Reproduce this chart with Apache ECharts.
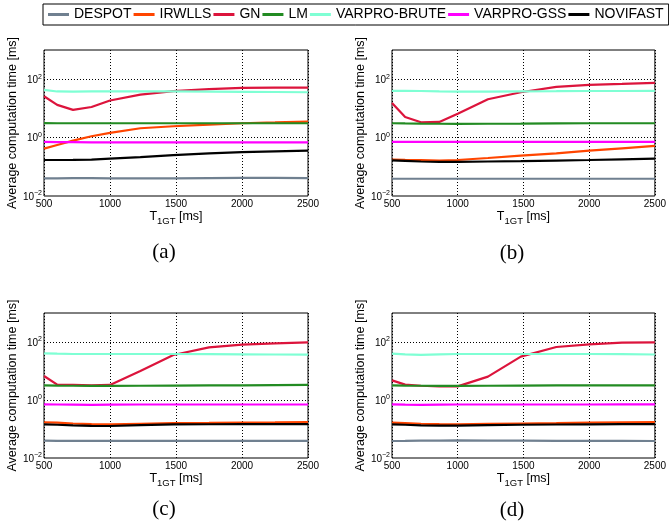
<!DOCTYPE html>
<html>
<head>
<meta charset="utf-8">
<script src="https://cdn.jsdelivr.net/npm/echarts@6/dist/echarts.min.js"></script>
<style>
html,body{margin:0;padding:0;background:#fff;}
#chart{width:669px;height:527px;}
</style>
</head>
<body>
<div id="chart"></div>
<script>
// ---- data ----
const T1 = [500, 600, 720, 860, 1000, 1230, 1480, 1750, 2000, 2250, 2500];
const methods = ['DESPOT', 'IRWLLS', 'GN', 'LM', 'VARPRO-BRUTE', 'VARPRO-GSS', 'NOVIFAST'];
const panelLabels = ['(a)', '(b)', '(c)', '(d)'];
const xTicks = [500, 1000, 1500, 2000, 2500];

// panel (a)
const DESPOT_a = [0.040, 0.040, 0.041, 0.041, 0.040, 0.040, 0.040, 0.041, 0.042, 0.042, 0.041];
const IRWLLS_a = [0.42, 0.56, 0.79, 1.11, 1.45, 2.09, 2.45, 2.79, 3.1, 3.3, 3.54];
const GN_a = [26.1, 13.2, 8.9, 11.2, 18.6, 29.8, 38.8, 45.4, 50.5, 51.8, 51.8];
const LM_a = [3.15, 3.1, 3.1, 3.1, 3.1, 3.1, 3.1, 3.1, 3.1, 3.1, 3.1];
const BRUTE_a = [43, 38, 37.8, 38.5, 38, 38, 38, 37.5, 37, 36.5, 35.8];
const GSS_a = [0.71, 0.70, 0.70, 0.69, 0.69, 0.69, 0.69, 0.69, 0.69, 0.69, 0.69];
const NOVI_a = [0.171, 0.171, 0.172, 0.175, 0.19, 0.215, 0.25, 0.29, 0.32, 0.34, 0.36];

// panel (b)
const DESPOT_b = [0.039, 0.039, 0.039, 0.039, 0.039, 0.039, 0.039, 0.039, 0.039, 0.039, 0.039];
const IRWLLS_b = [0.176, 0.172, 0.168, 0.163, 0.171, 0.2, 0.241, 0.29, 0.358, 0.43, 0.518];
const GN_b = [15.4, 5.1, 3.36, 3.44, 6.5, 20.6, 35.8, 54.6, 64, 69, 74.8];
const LM_b = [3.1, 3.05, 3.0, 2.98, 2.95, 2.98, 3.0, 3.05, 3.1, 3.1, 3.1];
const BRUTE_b = [39.8, 39.8, 39.5, 38.5, 37.8, 37.8, 38.5, 39, 39.5, 39.5, 39.8];
const GSS_b = [0.71, 0.71, 0.71, 0.71, 0.71, 0.71, 0.71, 0.71, 0.71, 0.71, 0.71];
const NOVI_b = [0.167, 0.16, 0.152, 0.147, 0.147, 0.152, 0.157, 0.164, 0.171, 0.18, 0.19];

// panel (c)
const DESPOT_c = [0.0396, 0.039, 0.039, 0.039, 0.039, 0.039, 0.039, 0.039, 0.039, 0.039, 0.0389];
const IRWLLS_c = [0.17, 0.165, 0.155, 0.148, 0.145, 0.152, 0.16, 0.163, 0.167, 0.17, 0.174];
const GN_c = [6.7, 3.38, 3.3, 3.2, 3.3, 10, 35.7, 65.5, 80.9, 90, 97.4];
const LM_c = [3.2, 3.15, 3.1, 3.05, 3.05, 3.1, 3.15, 3.2, 3.2, 3.25, 3.3];
const BRUTE_c = [40.6, 39.5, 38.6, 38.6, 38.6, 38.6, 38.6, 38, 37.5, 37, 36.6];
const GSS_c = [0.71, 0.7, 0.69, 0.68, 0.69, 0.7, 0.7, 0.7, 0.7, 0.7, 0.7];
const NOVI_c = [0.145, 0.14, 0.133, 0.128, 0.127, 0.137, 0.145, 0.146, 0.147, 0.147, 0.148];

// panel (d)
const DESPOT_d = [0.0386, 0.039, 0.0395, 0.04, 0.0406, 0.04, 0.0396, 0.039, 0.039, 0.0388, 0.0386];
const IRWLLS_d = [0.165, 0.16, 0.152, 0.147, 0.145, 0.15, 0.155, 0.16, 0.165, 0.17, 0.174];
const GN_d = [4.76, 3.38, 3.1, 2.95, 2.95, 6.4, 31.2, 67.3, 83.1, 94.8, 97.4];
const LM_d = [3.2, 3.15, 3.1, 3.05, 3.05, 3.1, 3.15, 3.2, 3.2, 3.2, 3.2];
const BRUTE_d = [39.6, 37.5, 35.7, 37.5, 38.6, 38.6, 38.6, 38.6, 38.6, 38, 37];
const GSS_d = [0.71, 0.69, 0.68, 0.69, 0.7, 0.7, 0.7, 0.7, 0.7, 0.71, 0.71];
const NOVI_d = [0.145, 0.14, 0.133, 0.13, 0.13, 0.135, 0.14, 0.143, 0.145, 0.147, 0.148];

// ---- styling / layout ----
const panels = [
  [DESPOT_a, IRWLLS_a, GN_a, LM_a, BRUTE_a, GSS_a, NOVI_a],
  [DESPOT_b, IRWLLS_b, GN_b, LM_b, BRUTE_b, GSS_b, NOVI_b],
  [DESPOT_c, IRWLLS_c, GN_c, LM_c, BRUTE_c, GSS_c, NOVI_c],
  [DESPOT_d, IRWLLS_d, GN_d, LM_d, BRUTE_d, GSS_d, NOVI_d]
];
const colors = ['#708090', '#FF4500', '#DC143C', '#228B22', '#7FFFD4', '#FF00FF', '#000000'];
const gridRects = [
  {left: 44, top: 50, width: 264, height: 146},
  {left: 392, top: 50, width: 264, height: 146},
  {left: 44, top: 313, width: 264, height: 145},
  {left: 392, top: 313, width: 264, height: 145}
];
const captionPos = [[164, 252], [512, 253], [164, 509], [512, 510]];

const FONT = '"Liberation Sans", Arial, Helvetica, sans-serif';
const dotted = [1, 2];
const clear = 'rgba(0,0,0,0)';

const grids = [], xAxes = [], yAxes = [], series = [], graphics = [];
gridRects.forEach((r, p) => {
  grids.push(Object.assign({show: true, borderColor: '#000', borderWidth: 1, backgroundColor: '#fff', containLabel: false}, r));
  xAxes.push({
    type: 'value', gridIndex: p, min: xTicks[0], max: xTicks[xTicks.length - 1], interval: 500,
    axisLine: {show: false}, axisTick: {show: false},
    axisLabel: {color: '#000', fontSize: 10, fontFamily: FONT, margin: 3, showMinLabel: true, showMaxLabel: true,
      formatter: function (v) { return String(v); }},
    splitLine: {show: true, lineStyle: {color: '#000', type: dotted, width: 1}},
    name: '{n|T}{s|1GT}{n| [ms]}', nameLocation: 'middle', nameGap: 10,
    nameTextStyle: {
      color: '#000', fontFamily: FONT,
      rich: {
        n: {fontSize: 12.5, fontFamily: FONT, color: '#000', lineHeight: 16, verticalAlign: 'top'},
        s: {fontSize: 9.5, fontFamily: FONT, color: '#000', lineHeight: 4, verticalAlign: 'bottom'}
      }
    }
  });
  yAxes.push({
    type: 'log', logBase: 10, gridIndex: p, min: 0.01, max: 1000,
    axisLine: {show: false}, axisTick: {show: false},
    axisLabel: {
      color: '#000', fontFamily: FONT, margin: 2, interval: 0,
      formatter: function (v) {
        const e = Math.round(Math.log10(v));
        if (e % 2 !== 0) return '';
        return '{b|10}{e|' + (e < 0 ? '\u2212' : '') + Math.abs(e) + '}';
      },
      rich: {
        b: {fontSize: 10, fontFamily: FONT, color: '#000', lineHeight: 12, verticalAlign: 'bottom'},
        e: {fontSize: 7, fontFamily: FONT, color: '#000', lineHeight: 6, verticalAlign: 'top'}
      }
    },
    splitLine: {show: true, lineStyle: {color: [clear, clear, '#000', clear, '#000', clear], type: dotted, width: 1}},
    name: 'Average computation time [ms]', nameLocation: 'middle', nameGap: 21,
    nameTextStyle: {color: '#000', fontSize: 12.5, fontFamily: FONT}
  });
  methods.forEach((m, k) => {
    const vals = panels[p][k];
    series.push({
      name: m, type: 'line', xAxisIndex: p, yAxisIndex: p,
      data: T1.map((x, i) => [x, vals[i]]),
      showSymbol: false, symbol: 'none', smooth: false,
      lineStyle: {color: colors[k], width: 2.2},
      itemStyle: {color: colors[k]},
      z: 2 + k * 0.01
    });
  });
  graphics.push({
    type: 'text', x: captionPos[p][0], y: captionPos[p][1],
    style: {text: panelLabels[p], fill: '#000', font: '21px "Liberation Serif", "Times New Roman", serif', textAlign: 'center', textVerticalAlign: 'middle'}
  });
});

const chart = echarts.init(document.getElementById('chart'), null, {renderer: 'canvas'});
chart.setOption({
  animation: false,
  backgroundColor: '#fff',
  color: colors,
  legend: {
    data: methods, left: 43, top: 4, width: 720, orient: 'horizontal', align: 'left',
    icon: 'rect', itemWidth: 21, itemHeight: 3, itemGap: 2,
    padding: [3, 5, 3, 5], borderColor: '#000', borderWidth: 1, backgroundColor: '#fff',
    textStyle: {color: '#000', fontSize: 14, fontFamily: FONT, lineHeight: 15},
    selectedMode: false
  },
  grid: grids, xAxis: xAxes, yAxis: yAxes, series: series,
  graphic: graphics
});
</script>
</body>
</html>
